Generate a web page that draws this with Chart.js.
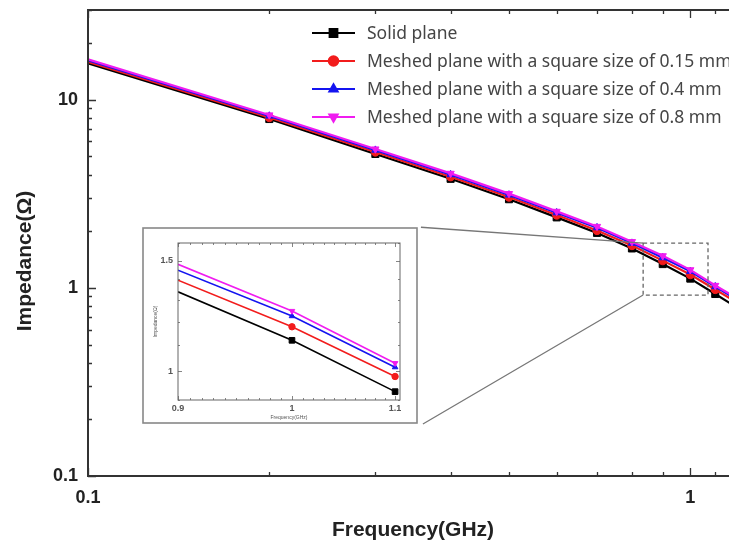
<!DOCTYPE html>
<html>
<head>
<meta charset="utf-8">
<script src="https://cdn.jsdelivr.net/npm/chart.js@4.4.1/dist/chart.umd.min.js"></script>
<style>
  html, body { margin: 0; padding: 0; background: #fff; overflow: hidden; }
  #wrap { position: relative; width: 729px; height: 546px; overflow: hidden; background: #fff; }
  #stage { position: absolute; left: 0; top: 0; width: 742px; height: 546px; }
  #mainChart { position: absolute; left: 0; top: 0; }
  #insetChart { position: absolute; }
</style>
</head>
<body>
<div id="wrap">
  <div id="stage">
    <canvas id="mainChart" width="742" height="546"></canvas>
    <canvas id="insetChart"></canvas>
  </div>
</div>
<script>
// Impedance vs frequency, solid plane vs meshed planes (log-log)

const freqs = [0.1, 0.2, 0.3, 0.4, 0.5, 0.6, 0.7, 0.8, 0.9, 1.0, 1.1, 1.2];

const solidPlane = [15.6, 7.9, 5.15, 3.8, 2.96, 2.37, 1.96, 1.62, 1.338, 1.12, 0.928, 0.78];
const mesh015 = [15.9, 8.05, 5.28, 3.9, 3.04, 2.44, 2.02, 1.68, 1.396, 1.177, 0.981, 0.83];
const mesh04 = [16.2, 8.2, 5.4, 4.0, 3.12, 2.51, 2.09, 1.73, 1.448, 1.224, 1.015, 0.86];
const mesh08 = [16.4, 8.3, 5.47, 4.06, 3.17, 2.55, 2.12, 1.76, 1.48, 1.247, 1.03, 0.875];

const seriesNames = [
  'Solid plane',
  'Meshed plane with a square size of 0.15 mm',
  'Meshed plane with a square size of 0.4 mm',
  'Meshed plane with a square size of 0.8 mm'
];
const seriesValues = [solidPlane, mesh015, mesh04, mesh08];
const seriesColors = ['#000000', '#f21c1c', '#1414f0', '#f01cf0'];
const seriesMarkers = ['rect', 'circle', 'triangle', 'triangle'];
const markerRotation = [0, 0, 0, 180];

// main axes
const xTicks = [0.1, 0.2, 0.3, 0.4, 0.5, 0.6, 0.7, 0.8, 0.9, 1, 1.1, 1.2];
const xMajor = [0.1, 1];
const yTicks = [0.1, 0.2, 0.3, 0.4, 0.5, 0.6, 0.7, 0.8, 0.9, 1, 2, 3, 4, 5, 6, 7, 8, 9, 10, 20, 30];
const yMajor = [0.1, 1, 10];

// inset axes
const insetXTicks = [0.9, 0.91, 0.92, 0.93, 0.94, 0.95, 0.96, 0.97, 0.98, 0.99, 1, 1.01, 1.02, 1.03, 1.04, 1.05, 1.06, 1.07, 1.08, 1.09, 1.1];
const insetXMajor = [0.9, 1, 1.1];
const insetYTicks = [0.9, 1, 1.1, 1.2, 1.3, 1.4, 1.5, 1.6];
const insetYMajor = [1, 1.5];

// zoom box and inset frame, in main-chart data units
const zoomBoxX = [0.835, 1.07];
const zoomBoxY = [0.916, 1.73];
const insetFrameX = [0.123, 0.353];
const insetFrameY = [0.189, 2.1];

const H = Chart.helpers;

// inward ticks + full frame (Origin style)
const frameTicks = {
  id: 'frameTicks',
  afterDraw(chart, args, o) {
    const { ctx, chartArea: a, scales: { x, y } } = chart;
    ctx.save();
    ctx.strokeStyle = o.color;
    ctx.lineWidth = o.tickWidth;
    ctx.beginPath();
    x.ticks.forEach(t => {
      const px = Math.round(x.getPixelForValue(t.value)) + 0.5;
      const len = o.majorX.includes(t.value) ? o.major : o.minor;
      ctx.moveTo(px, a.bottom); ctx.lineTo(px, a.bottom - len);
      ctx.moveTo(px, a.top); ctx.lineTo(px, a.top + len);
    });
    y.ticks.forEach(t => {
      const py = Math.round(y.getPixelForValue(t.value)) + 0.5;
      const len = o.majorY.includes(t.value) ? o.major : o.minor;
      ctx.moveTo(a.left, py); ctx.lineTo(a.left + len, py);
      ctx.moveTo(a.right, py); ctx.lineTo(a.right - len, py);
    });
    ctx.stroke();
    ctx.lineWidth = o.frameWidth;
    ctx.strokeRect(a.left, a.top, a.right - a.left, a.bottom - a.top);
    ctx.restore();
  }
};

const axisTitles = {
  id: 'axisTitles',
  afterDraw(chart, args, o) {
    const { ctx, chartArea: a } = chart;
    ctx.save();
    ctx.font = o.font;
    ctx.fillStyle = o.color;
    ctx.textAlign = 'center';
    ctx.textBaseline = 'middle';
    ctx.fillText(o.xText, (a.left + a.right) / 2 + o.xShift, a.bottom + o.xOffset);
    ctx.translate(o.yX, (a.top + a.bottom) / 2 + o.yShift);
    ctx.rotate(-Math.PI / 2);
    ctx.fillText(o.yText, 0, 0);
    ctx.restore();
  }
};

const floatLegend = {
  id: 'floatLegend',
  afterDraw(chart, args, o) {
    const { ctx } = chart;
    ctx.save();
    chart.data.datasets.forEach((ds, i) => {
      const yy = o.top + i * o.rowGap;
      ctx.strokeStyle = ds.borderColor;
      ctx.lineWidth = 2;
      ctx.beginPath();
      ctx.moveTo(o.left, yy); ctx.lineTo(o.left + o.lineLen, yy);
      ctx.stroke();
      ctx.fillStyle = ds.borderColor;
      H.drawPoint(ctx, {
        pointStyle: ds.pointStyle, rotation: ds.pointRotation,
        radius: ds.pointStyle === 'rect' ? 5.5 : 4.8, borderWidth: 1
      }, o.left + o.lineLen / 2, yy);
      ctx.fillStyle = o.color;
      ctx.font = o.font;
      ctx.textBaseline = 'middle';
      ctx.textAlign = 'left';
      ctx.fillText(ds.label, o.left + o.lineLen + o.textGap, yy + 1);
    });
    ctx.restore();
  }
};

const zoomMarks = {
  id: 'zoomMarks',
  afterDraw(chart) {
    const { ctx, scales: { x, y } } = chart;
    const bl = x.getPixelForValue(zoomBoxX[0]), br = x.getPixelForValue(zoomBoxX[1]);
    const bt = y.getPixelForValue(zoomBoxY[1]), bb = y.getPixelForValue(zoomBoxY[0]);
    const fr = x.getPixelForValue(insetFrameX[1]);
    const ft = y.getPixelForValue(insetFrameY[1]), fb = y.getPixelForValue(insetFrameY[0]);
    ctx.save();
    ctx.strokeStyle = '#666';
    ctx.lineWidth = 1.3;
    ctx.setLineDash([4, 3]);
    ctx.strokeRect(bl, bt, br - bl, bb - bt);
    ctx.setLineDash([]);
    ctx.strokeStyle = '#777';
    ctx.beginPath();
    ctx.moveTo(fr + 3, ft); ctx.lineTo(bl, bt);
    ctx.moveTo(fr + 5, fb); ctx.lineTo(bl, bb);
    ctx.stroke();
    ctx.restore();
  }
};

function makeDatasets(xMin, xMax, lineW, r) {
  return seriesNames.map((name, i) => ({
    label: name,
    data: freqs.map((f, j) => ({ x: f, y: seriesValues[i][j] }))
      .filter(p => p.x >= xMin && p.x <= xMax),
    borderColor: seriesColors[i],
    backgroundColor: seriesColors[i],
    borderWidth: lineW,
    pointStyle: seriesMarkers[i],
    pointRotation: markerRotation[i],
    pointRadius: ctx => {
      const v = ctx.raw ? ctx.raw.x : 0;
      if (v <= xMin + 1e-9 || v >= 1.15) return 0;
      return seriesMarkers[i] === 'rect' ? r + 0.8 : r;
    },
    pointBorderWidth: 1,
    tension: 0,
    order: 3 - i
  }));
}

// drop the label-overflow padding Chart.js adds at the axis ends
const noEndPadX = s => { s.paddingLeft = 0; s.paddingRight = 0; };
const noEndPadY = s => { s.paddingTop = 0; s.paddingBottom = 0; };

const tickFont = { family: '"Liberation Sans", Arial, sans-serif', size: 18, weight: 'bold' };

const mainChart = new Chart(document.getElementById('mainChart'), {
  type: 'line',
  data: { datasets: makeDatasets(0.1, 1.2, 2.2, 4.2) },
  options: {
    responsive: false,
    animation: false,
    layout: { padding: { top: 10, right: 4, left: 0, bottom: 0 } },
    plugins: {
      legend: { display: false },
      tooltip: { enabled: false },
      frameTicks: { color: '#333', tickWidth: 1.3, frameWidth: 2, major: 8, minor: 4, majorX: xMajor, majorY: yMajor },
      axisTitles: {
        font: 'bold 21px "Liberation Sans", Arial, sans-serif', color: '#222',
        xText: 'Frequency(GHz)', yText: 'Impedance(\u03A9)',
        xShift: 0, xOffset: 54, yX: 25, yShift: 18
      },
      floatLegend: {
        left: 312, top: 33, rowGap: 28, lineLen: 43, textGap: 12,
        font: '17.5px "Noto Sans", "Open Sans", sans-serif', color: '#454545'
      }
    },
    scales: {
      x: {
        type: 'logarithmic', min: 0.1, max: 1.2,
        afterBuildTicks: s => { s.ticks = xTicks.map(v => ({ value: v })); },
        afterFit: s => { s.height = 70; noEndPadX(s); },
        grid: { display: false, drawTicks: false },
        border: { display: false },
        ticks: {
          autoSkip: false, maxRotation: 0, padding: 11, color: '#222', font: tickFont,
          callback: v => xMajor.includes(v) ? String(v) : ''
        }
      },
      y: {
        type: 'logarithmic', min: 0.1, max: 30,
        afterBuildTicks: s => { s.ticks = yTicks.map(v => ({ value: v })); },
        afterFit: s => { s.width = 88; noEndPadY(s); },
        grid: { display: false, drawTicks: false },
        border: { display: false },
        ticks: {
          autoSkip: false, padding: 10, color: '#222', font: tickFont,
          callback: v => yMajor.includes(v) ? String(v) : ''
        }
      }
    }
  },
  plugins: [zoomMarks, frameTicks, axisTitles, floatLegend]
});

// place the inset on the main axes
const mx = mainChart.scales.x, my = mainChart.scales.y;
const iL = Math.round(mx.getPixelForValue(insetFrameX[0]));
const iR = Math.round(mx.getPixelForValue(insetFrameX[1]));
const iT = Math.round(my.getPixelForValue(insetFrameY[1]));
const iB = Math.round(my.getPixelForValue(insetFrameY[0]));
const insetCanvas = document.getElementById('insetChart');
insetCanvas.width = iR - iL;
insetCanvas.height = iB - iT;
insetCanvas.style.left = iL + 'px';
insetCanvas.style.top = iT + 'px';

const insetBg = {
  id: 'insetBg',
  beforeDraw(chart) {
    const { ctx, width, height } = chart;
    ctx.save();
    ctx.fillStyle = '#fff';
    ctx.fillRect(0, 0, width, height);
    ctx.strokeStyle = '#888';
    ctx.lineWidth = 1.6;
    ctx.strokeRect(1, 1, width - 2, height - 2);
    ctx.restore();
  }
};

const insetTickFont = { family: '"Liberation Sans", Arial, sans-serif', size: 9, weight: 'bold' };

new Chart(insetCanvas, {
  type: 'line',
  data: { datasets: makeDatasets(0.9, 1.1, 1.6, 3.2) },
  options: {
    responsive: false,
    animation: false,
    layout: { padding: { top: 16, right: 18, left: 0, bottom: 0 } },
    plugins: {
      legend: { display: false },
      tooltip: { enabled: false },
      frameTicks: { color: '#666', tickWidth: 0.8, frameWidth: 1, major: 4, minor: 2, majorX: insetXMajor, majorY: insetYMajor },
      axisTitles: {
        font: '5px "Liberation Sans", Arial, sans-serif', color: '#555',
        xText: 'Frequency(GHz)', yText: 'Impedance(\u03A9)',
        xShift: 0, xOffset: 18, yX: 14, yShift: 0
      }
    },
    scales: {
      x: {
        type: 'logarithmic', min: 0.9, max: 1.105,
        afterBuildTicks: s => { s.ticks = insetXTicks.map(v => ({ value: v })); },
        afterFit: s => { s.height = 24; noEndPadX(s); },
        grid: { display: false, drawTicks: false },
        border: { display: false },
        ticks: {
          autoSkip: false, maxRotation: 0, padding: 3, color: '#555', font: insetTickFont,
          callback: v => insetXMajor.includes(v) ? String(v) : ''
        }
      },
      y: {
        type: 'logarithmic', min: 0.9, max: 1.6,
        afterBuildTicks: s => { s.ticks = insetYTicks.map(v => ({ value: v })); },
        afterFit: s => { s.width = 36; noEndPadY(s); },
        grid: { display: false, drawTicks: false },
        border: { display: false },
        ticks: {
          autoSkip: false, padding: 5, color: '#555', font: insetTickFont,
          callback: v => insetYMajor.includes(v) ? String(v) : ''
        }
      }
    }
  },
  plugins: [insetBg, frameTicks, axisTitles]
});
</script>
</body>
</html>
